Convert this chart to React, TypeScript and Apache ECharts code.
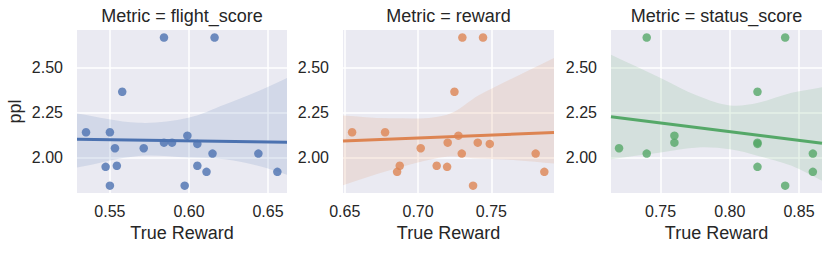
import React, { useEffect, useRef } from "react";
import * as echarts from "echarts";

// ---------- data ----------
const panelTitles = ["Metric = flight_score", "Metric = reward", "Metric = status_score"];
const xAxisName = "True Reward";
const yAxisName = "ppl";

const yTicks = [2.0, 2.25, 2.5];
const yRange = [1.802, 2.712];

const flightTicks = [0.55, 0.6, 0.65];
const rewardTicks = [0.65, 0.7, 0.75];
const statusTicks = [0.75, 0.8, 0.85];

const flightRange = [0.5292, 0.662];
const rewardRange = [0.6488, 0.7927];
const statusRange = [0.7142, 0.8666];

const flightX = [0.5349, 0.55, 0.5473, 0.55, 0.5532, 0.5544, 0.5578, 0.5714, 0.5842, 0.5842, 0.5893, 0.5973, 0.599, 0.6053, 0.6053, 0.6111, 0.6149, 0.6162, 0.6439, 0.6559];
const flightY = [2.141, 2.141, 1.948, 1.843, 2.052, 1.954, 2.367, 2.052, 2.67, 2.083, 2.083, 1.843, 2.122, 2.076, 1.954, 1.92, 2.022, 2.67, 2.022, 1.92];

const rewardX = [0.655, 0.6775, 0.6857, 0.6875, 0.7018, 0.7127, 0.7198, 0.7202, 0.7248, 0.7275, 0.7298, 0.7302, 0.7375, 0.7407, 0.7443, 0.7489, 0.7802, 0.7861];
const rewardY = [2.141, 2.141, 1.92, 1.954, 2.052, 1.954, 1.948, 2.083, 2.367, 2.122, 2.022, 2.67, 1.843, 2.083, 2.67, 2.076, 2.022, 1.92];

const statusX = [0.72, 0.74, 0.74, 0.76, 0.76, 0.82, 0.82, 0.82, 0.82, 0.84, 0.84, 0.86, 0.86];
const statusY = [2.052, 2.67, 2.022, 2.122, 2.083, 2.367, 2.083, 2.076, 1.948, 2.67, 1.843, 2.022, 1.92];

// regression fit (read at axis limits)
const flightFitY = [2.102, 2.085];
const rewardFitY = [2.092, 2.14];
const statusFitY = [2.228, 2.08];

// confidence bands
const flightBandX = [0.5292, 0.5681, 0.5996, 0.6227, 0.6437, 0.662];
const flightBandHi = [2.246, 2.194, 2.222, 2.296, 2.37, 2.444];
const flightBandLo = [1.944, 2.009, 2.0, 1.99, 1.954, 1.904];

const rewardBandX = [0.6488, 0.6807, 0.7193, 0.742, 0.767, 0.7927];
const rewardBandHi = [2.234, 2.219, 2.238, 2.35, 2.453, 2.556];
const rewardBandLo = [1.845, 1.929, 2.004, 1.994, 1.985, 1.966];

const statusBandX = [0.7142, 0.75, 0.7772, 0.8001, 0.8206, 0.8447, 0.8666];
const statusBandHi = [2.574, 2.444, 2.343, 2.291, 2.306, 2.361, 2.393];
const statusBandLo = [1.991, 2.028, 2.056, 2.046, 2.009, 1.954, 1.87];

const colors = ["#4C72B0", "#DD8452", "#55A868"];
const bandColors = ["rgba(76,114,176,0.15)", "rgba(221,132,82,0.15)", "rgba(85,168,104,0.15)"];

// ---------- layout ----------
const FONT = "Liberation Sans, Arial, sans-serif";
const TEXT = "#262626";
const grids = [
  { left: 77, top: 30, width: 210, height: 163 },
  { left: 343, top: 30, width: 211, height: 163 },
  { left: 611, top: 30, width: 211, height: 163 },
];

const panels = [
  { x: flightX, y: flightY, range: flightRange, ticks: flightTicks, fit: flightFitY, bx: flightBandX, hi: flightBandHi, lo: flightBandLo },
  { x: rewardX, y: rewardY, range: rewardRange, ticks: rewardTicks, fit: rewardFitY, bx: rewardBandX, hi: rewardBandHi, lo: rewardBandLo },
  { x: statusX, y: statusY, range: statusRange, ticks: statusTicks, fit: statusFitY, bx: statusBandX, hi: statusBandHi, lo: statusBandLo },
];

export default function App() {
  const ref = useRef<HTMLDivElement>(null);
  useEffect(() => {
    if (!ref.current) return;
    const chart = echarts.init(ref.current, undefined, { renderer: "svg" });

    const xAxes: any[] = [];
    const yAxes: any[] = [];
    const series: any[] = [];
    const graphics: any[] = [];

    panels.forEach((p, i) => {
      xAxes.push({
        gridIndex: i,
        type: "value",
        min: p.range[0],
        max: p.range[1],
        axisLine: { show: false },
        axisTick: { show: false, customValues: p.ticks },
        axisLabel: {
          customValues: p.ticks,
          formatter: (v: number) => v.toFixed(2),
          fontSize: 16,
          fontFamily: FONT,
          color: TEXT,
          margin: 10,
        },
        splitLine: { show: true, lineStyle: { color: "#ffffff", width: 1.5 } },
        name: xAxisName,
        nameLocation: "middle",
        nameGap: 30,
        nameTextStyle: { fontSize: 18, fontFamily: FONT, color: TEXT },
      });
      yAxes.push({
        gridIndex: i,
        type: "value",
        min: yRange[0],
        max: yRange[1],
        axisLine: { show: false },
        axisTick: { show: false, customValues: yTicks },
        axisLabel: {
          customValues: yTicks,
          formatter: (v: number) => v.toFixed(2),
          fontSize: 16,
          fontFamily: FONT,
          color: TEXT,
          margin: 14,
        },
        splitLine: { show: true, lineStyle: { color: "#ffffff", width: 1.5 } },
        name: i === 0 ? yAxisName : "",
        nameLocation: "middle",
        nameGap: 53,
        nameTextStyle: { fontSize: 18, fontFamily: FONT, color: TEXT },
      });

      // confidence band as a smoothed polygon (corners duplicated to keep them sharp)
      series.push({
        type: "custom",
        xAxisIndex: i,
        yAxisIndex: i,
        coordinateSystem: "cartesian2d",
        data: [[p.bx[0], p.lo[0]]],
        silent: true,
        z: 1,
        renderItem: (_params: any, api: any) => {
          const upper = p.bx.map((x, k) => api.coord([x, p.hi[k]]));
          const lower = p.bx.map((x, k) => api.coord([x, p.lo[k]])).reverse();
          const pts = [
            upper[0],
            ...upper,
            upper[upper.length - 1],
            lower[0],
            ...lower,
            lower[lower.length - 1],
          ];
          return {
            type: "polygon",
            shape: { points: pts, smooth: 0.35 },
            style: { fill: bandColors[i], stroke: "none" },
          };
        },
      });
      series.push({
        type: "scatter",
        xAxisIndex: i,
        yAxisIndex: i,
        data: p.x.map((x, k) => [x, p.y[k]]),
        symbol: "circle",
        symbolSize: 8.5,
        itemStyle: { color: colors[i], opacity: 0.8 },
        z: 2,
      });
      series.push({
        type: "line",
        xAxisIndex: i,
        yAxisIndex: i,
        data: [
          [p.range[0], p.fit[0]],
          [p.range[1], p.fit[1]],
        ],
        symbol: "none",
        lineStyle: { color: colors[i], width: 3 },
        z: 3,
      });

      graphics.push({
        type: "text",
        x: grids[i].left + grids[i].width / 2,
        y: 16,
        style: {
          text: panelTitles[i],
          font: `18px ${FONT}`,
          fill: TEXT,
          align: "center",
          verticalAlign: "middle",
        },
      });
    });

    chart.setOption({
      animation: false,
      backgroundColor: "#ffffff",
      grid: grids.map((g) => ({
        ...g,
        show: true,
        backgroundColor: "#EAEAF2",
        borderWidth: 0,
        containLabel: false,
      })),
      xAxis: xAxes,
      yAxis: yAxes,
      series,
      graphic: graphics,
    });

    return () => chart.dispose();
  }, []);

  return (
    <div
      ref={ref}
      style={{ position: "fixed", left: 0, top: 0, width: 831, height: 253 }}
    />
  );
}
